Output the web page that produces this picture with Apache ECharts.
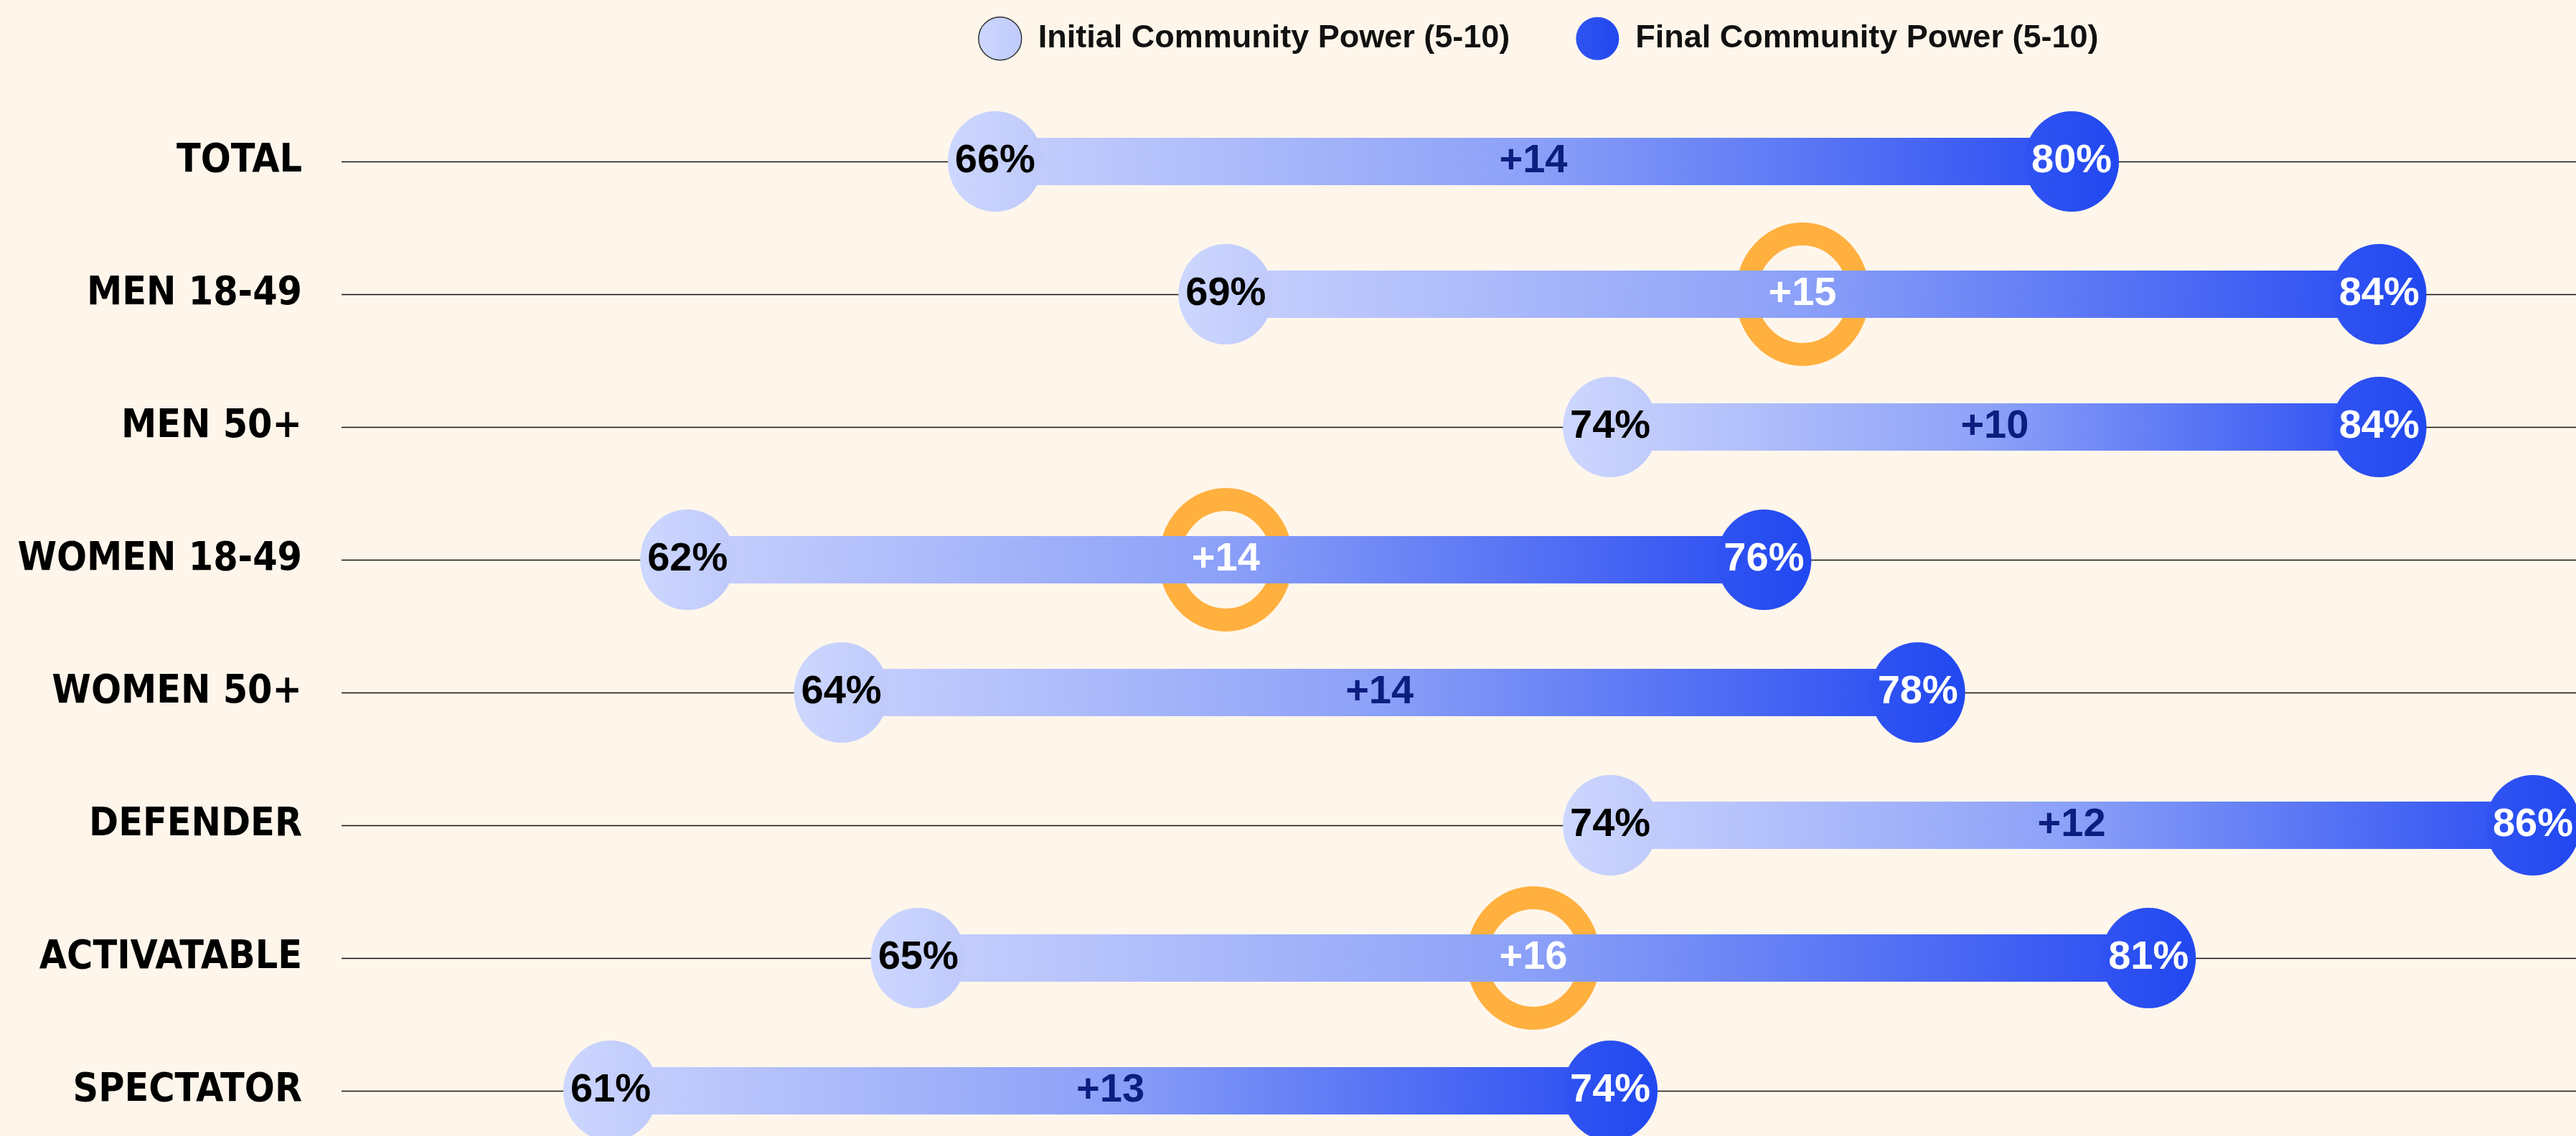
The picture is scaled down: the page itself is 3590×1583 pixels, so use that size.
<!DOCTYPE html>
<html>
<head>
<meta charset="utf-8">
<script src="https://cdn.jsdelivr.net/npm/echarts@6/dist/echarts.min.js"></script>
<style>
  html, body { margin: 0; padding: 0; background: #fff6eb; }
  #chart { width: 3590px; height: 1583px; }
</style>
</head>
<body>
<div id="chart"></div>
<script>
  // rows, top to bottom
  var categories = ["TOTAL", "MEN 18-49", "MEN 50+", "WOMEN 18-49", "WOMEN 50+", "DEFENDER", "ACTIVATABLE", "SPECTATOR"];
  var initialPower = [66, 69, 74, 62, 64, 74, 65, 61];
  var finalPower = [80, 84, 84, 76, 78, 86, 81, 74];
  // rows circled in orange
  var highlighted = [0, 1, 0, 1, 0, 0, 1, 0];

  var seriesNames = ["Initial Community Power (5-10)", "Final Community Power (5-10)"];

  var labelFont = "Liberation Sans, Arial, sans-serif";

  var chart = echarts.init(document.getElementById("chart"));

  var barData = categories.map(function (c, i) {
    return [i, initialPower[i], finalPower[i], highlighted[i]];
  });
  var ringData = [];
  categories.forEach(function (c, i) {
    if (highlighted[i]) ringData.push([(initialPower[i] + finalPower[i]) / 2, c]);
  });

  var option = {
    backgroundColor: "#fff6eb",
    animation: false,
    legend: {
      left: 1358,
      top: 18,
      itemWidth: 60,
      itemHeight: 60,
      itemGap: 92,
      icon: "circle",
      textStyle: {
        fontFamily: labelFont,
        fontWeight: "bold",
        fontSize: 45,
        color: "#111",
        padding: [0, 0, 0, 18]
      },
      data: [
        { name: seriesNames[0], itemStyle: { borderColor: "#333", borderWidth: 1.5 } },
        { name: seriesNames[1] }
      ]
    },
    grid: {
      left: 476,
      right: 0,
      top: 225,
      bottom: 63,
      outerBoundsMode: "none"
    },
    xAxis: {
      type: "value",
      min: 57.5,
      max: 86.56,
      show: false
    },
    yAxis: {
      type: "category",
      data: categories,
      inverse: true,
      boundaryGap: false,
      axisLine: { show: false },
      axisTick: { show: false },
      axisLabel: {
        interval: 0,
        margin: 55,
        color: "#000",
        fontFamily: "Liberation Sans Narrow, DejaVu Sans Condensed, sans-serif",
        fontWeight: "bold",
        fontSize: 55
      },
      splitLine: {
        show: true,
        interval: 0,
        lineStyle: { color: "#111", width: 1.4 }
      }
    },
    series: [
      {
        // orange highlight rings, sitting under the bars
        type: "scatter",
        z: 1,
        symbol: "circle",
        symbolSize: [157, 168],
        silent: true,
        itemStyle: { color: "rgba(0,0,0,0)", borderColor: "#ffb03e", borderWidth: 31, opacity: 1 },
        data: ringData
      },
      {
        type: "custom",
        z: 2,
        renderItem: function (params, api) {
          var start = api.coord([api.value(1), api.value(0)]);
          var end = api.coord([api.value(2), api.value(0)]);
          var h = 66;
          var diff = Math.round(api.value(2) - api.value(1));
          var hl = api.value(3);
          return {
            type: "group",
            children: [
              {
                type: "rect",
                shape: { x: start[0], y: start[1] - h / 2, width: end[0] - start[0], height: h },
                style: {
                  fill: new echarts.graphic.LinearGradient(0, 0, 1, 0, [
                    { offset: 0, color: "#c7d0fd" },
                    { offset: 0.5, color: "#8ba0f8" },
                    { offset: 1, color: "#2b4ef2" }
                  ])
                }
              },
              {
                type: "text",
                x: (start[0] + end[0]) / 2,
                y: start[1],
                z2: 10,
                style: {
                  text: "+" + diff,
                  fill: hl ? "#ffffff" : "#0b1d7e",
                  fontFamily: labelFont,
                  fontWeight: "bold",
                  fontSize: 56,
                  align: "center",
                  verticalAlign: "middle"
                }
              }
            ]
          };
        },
        data: barData
      },
      {
        name: seriesNames[0],
        type: "scatter",
        z: 3,
        symbol: "circle",
        symbolSize: [132, 140],
        itemStyle: {
          opacity: 1,
          color: new echarts.graphic.LinearGradient(0, 0, 1, 0, [
            { offset: 0, color: "#cdd7ff" },
            { offset: 1, color: "#bfcafb" }
          ])
        },
        label: {
          show: true,
          position: "inside",
          formatter: function (p) { return p.value[0] + "%"; },
          color: "#000",
          fontFamily: labelFont,
          fontWeight: "bold",
          fontSize: 56
        },
        data: initialPower.map(function (v, i) { return [v, categories[i]]; })
      },
      {
        name: seriesNames[1],
        type: "scatter",
        z: 3,
        symbol: "circle",
        symbolSize: [132, 140],
        itemStyle: {
          opacity: 1,
          color: new echarts.graphic.LinearGradient(0, 0, 1, 0, [
            { offset: 0, color: "#3053f2" },
            { offset: 1, color: "#2148f0" }
          ])
        },
        label: {
          show: true,
          position: "inside",
          formatter: function (p) { return p.value[0] + "%"; },
          color: "#fff",
          fontFamily: labelFont,
          fontWeight: "bold",
          fontSize: 56
        },
        data: finalPower.map(function (v, i) { return [v, categories[i]]; })
      }
    ]
  };

  chart.setOption(option);
</script>
</body>
</html>
